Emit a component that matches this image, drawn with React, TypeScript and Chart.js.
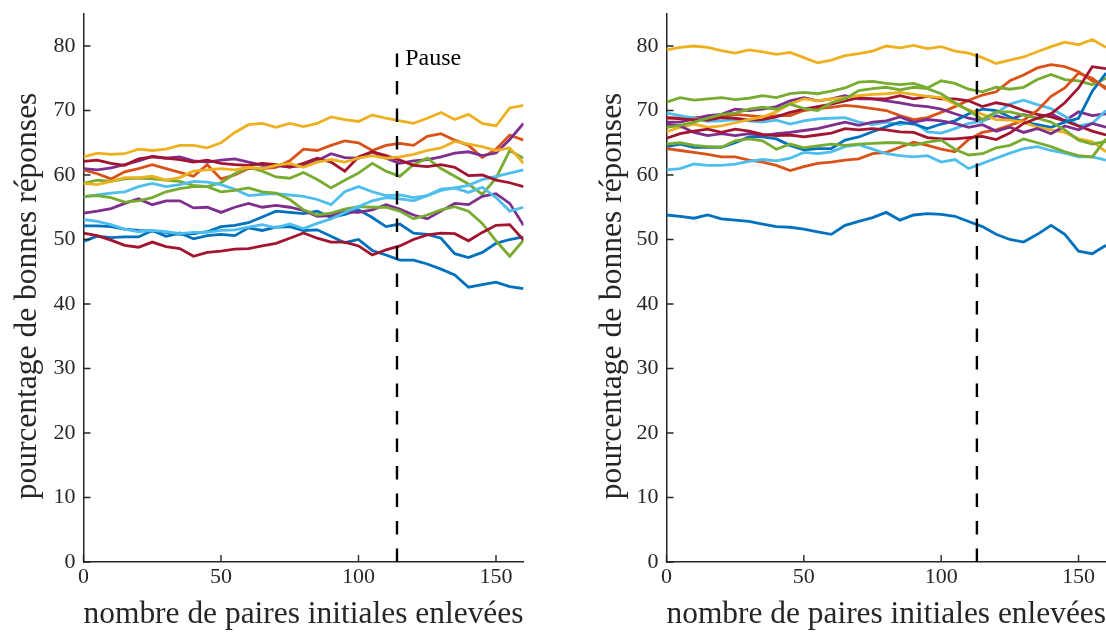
import React, { useEffect, useRef } from "react";
import { Chart, registerables } from "chart.js";

Chart.register(...registerables);

// ---------- shared axis data ----------
const X_PAIRS = [0, 5, 10, 15, 20, 25, 30, 35, 40, 45, 50, 55, 60, 65, 70, 75, 80, 85, 90, 95, 100, 105, 110, 115, 120, 125, 130, 135, 140, 145, 150, 155, 160];
const Y_TICKS = [0, 10, 20, 30, 40, 50, 60, 70, 80];
const X_TICKS = [0, 50, 100, 150];
const X_RANGE = [0, 160];
const Y_RANGE = [0, 85];
const PAUSE_LEFT = 114;
const PAUSE_RIGHT = 113;
const PAUSE_SPAN = [0, 80];
const PAUSE_LABEL = "Pause";
const PAUSE_LABEL_AT = [117, 78];
const Y_TITLE = "pourcentage de bonnes réponses";
const X_TITLE = "nombre de paires initiales enlevées";

const BLUE = "#0072BD";
const ORANGE = "#D95319";
const YELLOW = "#EDB120";
const PURPLE = "#7E2F8E";
const GREEN = "#77AC30";
const LIGHTBLUE = "#4DBEEE";
const DARKRED = "#A2142F";
const AXIS = "#262626";
const FONT = "'Liberation Serif', 'Times New Roman', serif";

// ---------- left panel series ----------
const L_B1 = [52.1, 52.1, 52.0, 51.6, 51.4, 51.3, 51.1, 50.8, 50.9, 51.2, 52.0, 52.2, 52.6, 53.5, 54.4, 54.2, 54.0, 54.4, 53.4, 53.9, 54.6, 53.4, 52.0, 52.4, 51.0, 50.8, 50.2, 47.8, 47.2, 48.0, 49.4, 50.0, 50.4];
const L_O1 = [60.8, 60.2, 59.4, 60.5, 61.0, 61.6, 61.0, 60.4, 59.8, 61.6, 59.4, 60.0, 61.0, 61.0, 61.2, 62.2, 64.0, 63.8, 64.6, 65.3, 65.0, 63.8, 64.6, 64.9, 64.6, 66.0, 66.4, 65.4, 64.6, 62.7, 64.0, 66.2, 65.4];
const L_Y1 = [62.8, 63.4, 63.2, 63.3, 64.0, 63.8, 64.0, 64.6, 64.6, 64.2, 65.0, 66.6, 67.8, 68.0, 67.4, 68.0, 67.5, 68.0, 69.0, 68.6, 68.3, 69.3, 68.8, 68.4, 68.0, 68.8, 69.7, 68.6, 69.4, 68.0, 67.6, 70.4, 70.8];
const L_P1 = [61.0, 60.8, 61.1, 61.6, 62.2, 62.9, 62.6, 62.8, 62.2, 62.0, 62.3, 62.5, 62.0, 61.5, 61.4, 61.3, 61.4, 62.2, 63.3, 62.7, 62.6, 63.6, 62.6, 61.8, 62.2, 62.4, 62.8, 63.4, 63.6, 63.0, 63.4, 65.5, 68.0];
const L_G1 = [58.7, 59.2, 59.0, 59.4, 59.5, 59.4, 59.2, 59.0, 58.4, 58.2, 58.8, 60.2, 61.2, 60.6, 59.7, 59.5, 60.4, 59.3, 58.0, 59.2, 60.3, 61.8, 60.6, 59.8, 61.6, 62.6, 61.0, 59.8, 58.6, 57.0, 59.5, 63.8, 62.6];
const L_LB1 = [56.6, 56.9, 57.2, 57.4, 58.2, 58.7, 58.2, 58.5, 59.0, 58.9, 58.5, 57.8, 56.8, 57.0, 57.1, 56.9, 56.7, 56.2, 55.4, 57.4, 58.2, 57.4, 56.8, 56.9, 56.5, 56.8, 57.6, 58.0, 58.4, 59.3, 59.8, 60.3, 60.8];
const L_R1 = [62.1, 62.3, 61.8, 61.5, 62.5, 62.8, 62.6, 62.4, 62.0, 62.3, 61.8, 61.6, 61.5, 61.8, 61.6, 61.2, 61.8, 62.6, 62.0, 60.6, 62.8, 63.6, 63.0, 62.3, 61.5, 61.3, 61.6, 61.2, 59.9, 60.0, 59.2, 58.8, 58.2];
const L_B2 = [49.7, 50.5, 50.3, 50.4, 50.4, 51.4, 50.5, 51.0, 50.1, 50.6, 50.8, 50.6, 51.8, 51.4, 51.9, 52.0, 51.4, 51.5, 50.5, 49.5, 50.0, 48.3, 47.6, 46.8, 46.8, 46.2, 45.4, 44.5, 42.6, 43.0, 43.4, 42.7, 42.4];
const L_Y2 = [58.7, 58.5, 59.0, 59.6, 59.6, 59.8, 59.2, 59.6, 60.6, 60.8, 61.0, 60.8, 61.2, 61.0, 61.5, 61.8, 61.2, 62.0, 62.4, 62.0, 62.6, 63.0, 62.6, 62.8, 63.2, 63.8, 64.2, 65.2, 64.8, 64.4, 63.8, 64.2, 61.8];
const L_P2 = [54.1, 54.4, 54.8, 55.6, 56.3, 55.4, 56.0, 56.0, 54.9, 55.0, 54.2, 55.0, 55.6, 55.0, 55.3, 55.0, 54.5, 53.6, 53.7, 54.3, 54.2, 54.6, 55.4, 54.7, 53.8, 53.2, 54.4, 55.6, 55.4, 56.7, 57.1, 55.6, 52.2];
const L_G2 = [56.7, 56.8, 56.5, 55.8, 56.0, 56.5, 57.4, 57.9, 58.2, 58.2, 57.4, 57.6, 58.0, 57.4, 57.2, 56.2, 54.6, 53.8, 54.1, 54.7, 55.1, 55.0, 55.0, 54.4, 53.2, 53.8, 54.6, 55.1, 54.4, 52.5, 49.8, 47.4, 49.9];
const L_LB2 = [53.1, 52.8, 52.3, 51.6, 51.2, 51.4, 51.2, 50.9, 51.1, 51.1, 51.4, 51.5, 51.9, 52.3, 51.8, 52.4, 51.7, 52.5, 53.2, 54.2, 55.1, 56.0, 56.5, 56.3, 56.0, 56.8, 57.8, 58.0, 57.3, 58.1, 56.5, 54.4, 55.0];
const L_R2 = [51.0, 50.6, 49.9, 49.1, 48.8, 49.6, 48.9, 48.6, 47.4, 48.0, 48.2, 48.5, 48.6, 49.0, 49.4, 50.2, 51.0, 50.2, 49.6, 49.6, 49.0, 47.6, 48.4, 49.0, 50.0, 50.7, 51.0, 50.9, 49.8, 51.1, 52.2, 52.3, 49.9];

// ---------- right panel series ----------
const R_B2 = [53.8, 53.6, 53.3, 53.8, 53.2, 53.0, 52.8, 52.4, 52.0, 51.9, 51.6, 51.2, 50.8, 52.2, 52.8, 53.4, 54.2, 53.0, 53.8, 54.0, 53.9, 53.6, 52.8, 52.0, 50.8, 50.0, 49.6, 50.8, 52.2, 50.8, 48.2, 47.8, 49.1];
const R_O1 = [68.8, 68.9, 68.9, 69.0, 69.0, 69.4, 69.2, 69.0, 69.2, 69.2, 70.0, 70.3, 70.5, 70.8, 70.6, 70.3, 70.0, 69.2, 68.6, 68.9, 69.7, 70.6, 71.6, 72.4, 72.9, 74.6, 75.5, 76.6, 77.1, 76.8, 76.0, 74.6, 73.6];
const R_Y1 = [79.4, 79.8, 80.0, 79.8, 79.3, 78.9, 79.4, 79.1, 78.7, 79.0, 78.2, 77.4, 77.8, 78.5, 78.8, 79.2, 80.0, 79.7, 80.1, 79.6, 79.9, 79.2, 78.9, 78.2, 77.3, 77.8, 78.3, 79.1, 79.9, 80.6, 80.2, 81.0, 79.8];
const R_P1 = [68.2, 68.2, 68.7, 69.2, 69.4, 70.2, 70.0, 70.2, 70.6, 71.5, 72.0, 71.5, 71.8, 72.3, 71.8, 71.8, 71.5, 71.2, 70.8, 70.6, 70.2, 69.5, 68.8, 68.4, 69.2, 68.6, 69.4, 68.8, 69.5, 68.4, 69.8, 69.2, 69.5];
const R_G1 = [71.3, 72.0, 71.6, 71.8, 72.0, 71.7, 71.9, 72.3, 72.0, 72.6, 72.8, 72.6, 73.0, 73.5, 74.4, 74.5, 74.2, 74.0, 74.2, 73.5, 74.6, 74.2, 73.3, 72.9, 73.6, 73.3, 73.6, 74.8, 75.6, 74.8, 74.6, 74.0, 75.0];
const R_LB1 = [69.6, 69.2, 68.8, 68.3, 68.4, 68.6, 68.4, 68.2, 68.5, 67.9, 68.4, 68.7, 68.8, 68.9, 68.2, 67.8, 68.2, 67.8, 68.2, 66.7, 66.5, 67.2, 68.0, 68.3, 69.6, 71.0, 71.6, 70.9, 70.3, 69.1, 67.6, 68.0, 70.0];
const R_R1 = [68.9, 68.7, 68.6, 68.5, 68.9, 68.8, 68.5, 68.6, 69.0, 69.7, 70.2, 70.6, 71.0, 71.5, 72.0, 71.8, 71.8, 72.3, 71.8, 72.2, 71.8, 71.8, 71.5, 70.6, 71.2, 70.8, 70.0, 69.4, 69.0, 68.4, 67.6, 66.8, 66.2];
const R_B1 = [64.4, 64.8, 64.3, 64.3, 64.3, 65.0, 65.9, 65.9, 65.6, 64.6, 63.9, 64.1, 64.1, 65.4, 65.9, 66.7, 67.5, 68.2, 67.9, 67.2, 67.9, 68.4, 69.5, 70.2, 70.0, 69.0, 68.2, 67.8, 67.4, 68.2, 68.8, 73.0, 75.8];
const R_O2 = [64.1, 63.8, 63.5, 63.2, 62.8, 62.8, 62.3, 62.0, 61.5, 60.7, 61.3, 61.8, 62.0, 62.3, 62.5, 63.3, 63.5, 64.3, 65.1, 64.6, 64.0, 63.6, 65.5, 66.6, 67.0, 67.7, 68.5, 70.0, 72.2, 73.5, 75.8, 75.0, 73.3];
const R_Y2 = [66.7, 67.4, 67.9, 67.4, 67.6, 68.1, 68.6, 69.0, 69.8, 71.0, 71.8, 71.5, 71.8, 72.0, 72.3, 72.5, 72.6, 72.8, 72.5, 72.2, 72.0, 71.0, 70.1, 69.4, 68.6, 68.5, 68.2, 67.4, 67.0, 66.6, 65.6, 65.2, 63.6];
const R_P2 = [67.9, 67.6, 66.6, 66.1, 66.4, 66.1, 66.4, 66.1, 66.4, 66.6, 66.9, 67.2, 67.7, 68.2, 67.7, 68.2, 68.4, 69.0, 68.2, 68.6, 68.4, 68.0, 67.4, 67.8, 66.8, 67.4, 66.6, 67.2, 66.4, 67.6, 67.0, 68.0, 67.4];
const R_G2 = [67.4, 67.7, 68.2, 68.8, 69.4, 69.6, 70.2, 70.5, 70.2, 71.0, 70.3, 70.0, 71.2, 71.8, 73.1, 73.4, 73.6, 73.2, 73.6, 73.4, 72.6, 71.2, 70.0, 68.6, 69.8, 69.8, 69.3, 68.8, 68.2, 67.0, 65.4, 64.8, 65.2];
const R_LB2 = [60.8, 61.0, 61.7, 61.5, 61.5, 61.7, 62.1, 62.4, 62.2, 62.6, 63.5, 63.3, 63.6, 64.4, 64.7, 64.0, 63.3, 63.0, 62.8, 63.0, 62.0, 62.4, 61.0, 61.8, 62.6, 63.4, 64.1, 64.4, 63.8, 63.4, 62.8, 62.8, 62.3];
const R_R2 = [65.7, 66.4, 66.8, 67.1, 66.6, 67.1, 66.8, 66.3, 66.1, 66.2, 65.9, 66.2, 66.5, 67.2, 67.0, 67.2, 67.0, 66.7, 66.6, 65.8, 65.6, 65.6, 65.8, 66.0, 65.5, 66.5, 68.0, 68.8, 69.5, 71.2, 73.5, 76.8, 76.5];
const R_G3 = [64.8, 65.0, 64.6, 64.4, 64.3, 65.3, 65.6, 65.3, 64.0, 64.8, 64.2, 64.5, 64.8, 64.6, 64.8, 64.9, 65.0, 65.0, 64.6, 65.1, 65.4, 64.0, 63.1, 63.3, 64.2, 64.6, 65.6, 65.0, 64.4, 63.6, 63.0, 62.8, 65.6];

const LEFT_SERIES: [number[], string][] = [
  [L_B1, BLUE], [L_O1, ORANGE], [L_Y1, YELLOW], [L_P1, PURPLE], [L_G1, GREEN], [L_LB1, LIGHTBLUE], [L_R1, DARKRED],
  [L_B2, BLUE], [L_Y2, YELLOW], [L_P2, PURPLE], [L_G2, GREEN], [L_LB2, LIGHTBLUE], [L_R2, DARKRED],
];
const RIGHT_SERIES: [number[], string][] = [
  [R_B2, BLUE], [R_O1, ORANGE], [R_Y1, YELLOW], [R_P1, PURPLE], [R_G1, GREEN], [R_LB1, LIGHTBLUE], [R_R1, DARKRED],
  [R_B1, BLUE], [R_O2, ORANGE], [R_Y2, YELLOW], [R_P2, PURPLE], [R_G2, GREEN], [R_LB2, LIGHTBLUE], [R_R2, DARKRED], [R_G3, GREEN],
];

const CANVAS_W = 553;
const CANVAS_H = 633;
const TITLE_SIZE = 31.5;
const TICK_SIZE = 22;

const inwardTicks = {
  id: "inwardTicks",
  afterDatasetsDraw(chart: any) {
    const { ctx, chartArea, scales } = chart;
    const xs = scales.x;
    const ys = scales.y;
    ctx.save();
    ctx.strokeStyle = AXIS;
    ctx.lineWidth = 1.4;
    ctx.beginPath();
    Y_TICKS.forEach((v) => {
      const py = ys.getPixelForValue(v);
      ctx.moveTo(chartArea.left, py);
      ctx.lineTo(chartArea.left + 7, py);
    });
    X_TICKS.forEach((v) => {
      const px = xs.getPixelForValue(v);
      ctx.moveTo(px, chartArea.bottom);
      ctx.lineTo(px, chartArea.bottom - 7);
    });
    ctx.stroke();
    ctx.restore();
  },
};

function makeTextPlugin(showLabel: boolean, yTitleX: number) {
  return {
    id: "panelText",
    afterDraw(chart: any) {
      const { ctx, scales } = chart;
      ctx.save();
      // y-axis title (rotated), centred slightly below the axis middle like the reference
      ctx.fillStyle = AXIS;
      ctx.font = `${TITLE_SIZE}px ${FONT}`;
      ctx.textAlign = "center";
      ctx.textBaseline = "middle";
      ctx.translate(yTitleX, 296);
      ctx.rotate(-Math.PI / 2);
      ctx.fillText(Y_TITLE, 0, 0);
      ctx.restore();
      if (showLabel) {
        ctx.save();
        ctx.fillStyle = "#000";
        ctx.font = `24px ${FONT}`;
        ctx.textAlign = "left";
        ctx.textBaseline = "middle";
        ctx.fillText(PAUSE_LABEL, scales.x.getPixelForValue(PAUSE_LABEL_AT[0]), scales.y.getPixelForValue(PAUSE_LABEL_AT[1]));
        ctx.restore();
      }
    },
  };
}

function buildConfig(series: [number[], string][], pauseX: number, yWidth: number, rightPad: number, yTitleX: number, showLabel: boolean): any {
  const n = series.length;
  const datasets: any[] = series.map(([vals, color], i) => ({
    data: X_PAIRS.map((x, k) => ({ x, y: vals[k] })),
    borderColor: color,
    backgroundColor: color,
    borderWidth: 2.8,
    pointRadius: 0,
    fill: false,
    tension: 0,
    order: n - i + 1,
  }));
  datasets.push({
    data: PAUSE_SPAN.map((y) => ({ x: pauseX, y })),
    borderColor: "#000",
    borderWidth: 2.4,
    borderDash: [13.5, 14],
    pointRadius: 0,
    fill: false,
    order: 0,
  });
  return {
    type: "line",
    data: { datasets },
    options: {
      animation: false,
      responsive: false,
      devicePixelRatio: 1,
      layout: { padding: { left: 0, right: rightPad, top: 13.75, bottom: 0 } },
      plugins: { legend: { display: false }, tooltip: { enabled: false } },
      scales: {
        x: {
          type: "linear",
          min: X_RANGE[0],
          max: X_RANGE[1],
          afterBuildTicks: (s: any) => {
            s.ticks = X_TICKS.map((v) => ({ value: v }));
          },
          afterFit: (s: any) => {
            s.height = CANVAS_H - 562;
            s.paddingLeft = 0;
            s.paddingRight = 0;
          },
          grid: { display: false, drawTicks: false, tickLength: 0 },
          border: { display: true, color: AXIS, width: 1.5 },
          ticks: { color: AXIS, font: { family: FONT, size: TICK_SIZE }, padding: 2.5, maxRotation: 0, autoSkip: false },
          title: { display: true, text: X_TITLE, color: AXIS, font: { family: FONT, size: TITLE_SIZE }, padding: { top: 0, bottom: -1 } },
        },
        y: {
          type: "linear",
          min: Y_RANGE[0],
          max: Y_RANGE[1],
          afterBuildTicks: (s: any) => {
            s.ticks = Y_TICKS.map((v) => ({ value: v }));
          },
          afterFit: (s: any) => {
            s.width = yWidth;
            s.paddingTop = 0;
            s.paddingBottom = 0;
          },
          grid: { display: false, drawTicks: false, tickLength: 0 },
          border: { display: true, color: AXIS, width: 1.5 },
          ticks: { color: AXIS, font: { family: FONT, size: TICK_SIZE }, padding: 8, autoSkip: false },
          title: { display: false },
        },
      },
    },
    plugins: [inwardTicks, makeTextPlugin(showLabel, yTitleX)],
  };
}

function Panel(props: { series: [number[], string][]; pauseX: number; yWidth: number; rightPad: number; yTitleX: number; showLabel: boolean; left: number }) {
  const ref = useRef<HTMLCanvasElement>(null);
  useEffect(() => {
    if (!ref.current) return;
    const chart = new Chart(ref.current, buildConfig(props.series, props.pauseX, props.yWidth, props.rightPad, props.yTitleX, props.showLabel));
    return () => chart.destroy();
  }, []);
  return (
    <canvas
      ref={ref}
      width={CANVAS_W}
      height={CANVAS_H}
      style={{ position: "absolute", left: props.left, top: 0, width: CANVAS_W, height: CANVAS_H }}
    />
  );
}

export default function App() {
  return (
    <div style={{ position: "absolute", left: 0, top: 0, width: 1106, height: 633, background: "#fff", overflow: "hidden" }}>
      <Panel series={LEFT_SERIES} pauseX={PAUSE_LEFT} yWidth={83.5} rightPad={29.5} yTitleX={28} showLabel={true} left={0} />
      <Panel series={RIGHT_SERIES} pauseX={PAUSE_RIGHT} yWidth={113.5} rightPad={0} yTitleX={60} showLabel={false} left={553} />
    </div>
  );
}
